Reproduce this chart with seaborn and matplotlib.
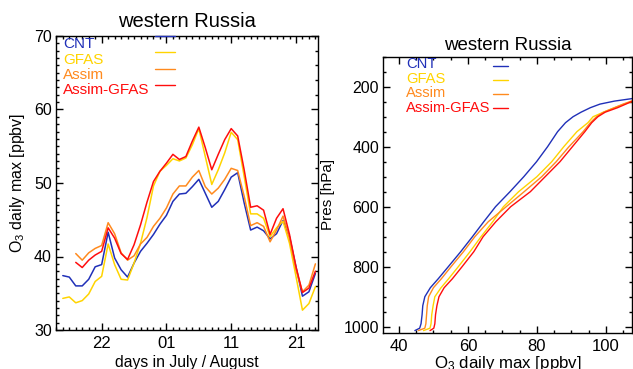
import matplotlib
matplotlib.use("Agg")
import matplotlib.pyplot as plt
from matplotlib.lines import Line2D
from matplotlib.ticker import MultipleLocator
import seaborn as sns
import pandas as pd

# ---------------- data ----------------
RUNS = ["CNT", "GFAS", "Assim", "Assim-GFAS"]
COLORS = ["#2030b8", "#ffd400", "#ff8a1e", "#ff0d0d"]

# day number counted from 1 July (32 = 01 August); 16 Jul ... 24 Aug
DAYS = list(range(16, 56))
TICK_DAYS = [22, 32, 42, 52]
TICK_LABELS = ["22", "01", "11", "21"]

CNT_TS = [37.4, 37.2, 36.0, 36.0, 36.9, 38.6, 38.9, 43.3, 39.8, 38.2,
          37.2, 39.1, 40.7, 41.8, 43.0, 44.4, 45.6, 47.5, 48.5, 48.6,
          49.5, 50.5, 48.6, 46.7, 47.5, 49.1, 50.8, 51.4, 47.3, 43.6,
          44.0, 43.5, 42.4, 43.1, 44.9, 42.7, 38.6, 34.6, 35.2, 37.7]
GFAS_TS = [34.3, 34.5, 33.7, 34.0, 34.9, 36.6, 37.3, 41.7, 38.9, 36.9,
           36.8, 39.1, 41.8, 45.3, 49.6, 51.6, 52.4, 53.3, 53.0, 53.4,
           55.2, 57.4, 53.6, 49.8, 51.8, 54.1, 56.9, 55.9, 50.9, 45.8,
           45.8, 45.2, 42.7, 43.9, 44.8, 41.8, 37.3, 32.7, 33.6, 35.9]
ASSIM_TS = [None, None, 40.4, 39.5, 40.5, 41.1, 41.5, 44.6, 43.1, 40.5,
            39.5, 40.1, 41.7, 42.6, 44.1, 45.2, 46.6, 48.5, 49.6, 49.6,
            50.8, 51.7, 49.5, 48.5, 49.3, 50.5, 52.0, 51.7, 48.2, 44.2,
            44.6, 44.1, 42.0, 43.6, 45.5, 42.5, 38.2, 35.2, 36.1, 39.0]
ASSIM_GFAS_TS = [None, None, 39.2, 38.5, 39.5, 40.2, 40.7, 43.9, 42.5, 40.4,
                 39.6, 41.6, 44.3, 47.4, 50.2, 51.6, 52.7, 53.9, 53.2, 53.6,
                 55.7, 57.6, 54.8, 51.8, 53.9, 55.9, 57.4, 56.4, 51.8, 46.7,
                 46.9, 46.3, 43.0, 45.2, 46.5, 43.0, 38.6, 35.1, 35.7, 38.0]

PRES = [1013, 1005, 990, 960, 930, 900, 870, 840, 800, 750, 700, 650, 600,
        550, 500, 450, 400, 350, 320, 300, 285, 270, 258, 248, 240, 230]
CNT_P = [44.6, 46.0, 46.4, 46.7, 46.9, 47.5, 49.1, 51.4, 54.3, 57.9, 61.3,
         64.6, 68.0, 72.2, 76.2, 79.9, 83.1, 86.0, 88.3, 90.5, 92.8, 95.5,
         98.3, 102.5, 107.4, 112.0]
GFAS_P = [47.1, 49.0, 49.3, 49.5, 49.9, 50.4, 52.2, 54.4, 57.2, 60.6, 63.8,
          67.2, 70.3, 74.7, 80.0, 84.3, 87.8, 91.6, 94.8, 96.3, 99.3, 102.5,
          105.3, 108.0, 110.5, 113.0]
ASSIM_P = [45.6, 47.5, 47.8, 48.0, 48.2, 48.6, 50.0, 52.3, 55.1, 58.7, 62.0,
           65.9, 71.1, 76.3, 81.4, 85.6, 89.3, 93.4, 95.5, 97.3, 99.3, 102.5,
           105.0, 107.4, 110.0, 113.0]
ASSIM_GFAS_P = [49.0, 50.1, 50.4, 50.6, 51.0, 51.6, 53.1, 55.5, 58.3, 61.7,
                64.4, 68.1, 72.4, 78.1, 82.4, 86.7, 90.3, 93.9, 95.9, 97.7,
                99.8, 103.4, 105.8, 107.8, 110.0, 113.0]

TS = dict(zip(RUNS, [CNT_TS, GFAS_TS, ASSIM_TS, ASSIM_GFAS_TS]))
PR = dict(zip(RUNS, [CNT_P, GFAS_P, ASSIM_P, ASSIM_GFAS_P]))

df_ts = pd.concat([pd.DataFrame({"day": DAYS, "o3": TS[r], "run": r}) for r in RUNS])
df_ts = df_ts.dropna().astype({"o3": float})
df_pr = pd.concat([pd.DataFrame({"pres": PRES, "o3": PR[r], "run": r}) for r in RUNS])

# ---------------- style ----------------
sns.set_style("ticks")
plt.rcParams.update({
    "font.family": ["Liberation Sans", "DejaVu Sans"],
    "mathtext.fontset": "custom",
    "mathtext.rm": "Liberation Sans",
    "mathtext.it": "Liberation Sans:italic",
    "axes.linewidth": 1.0,
    "axes.edgecolor": "black",
    "text.color": "black",
    "axes.labelcolor": "black",
    "xtick.color": "black",
    "ytick.color": "black",
})
palette = dict(zip(RUNS, COLORS))

W, H = 633, 369
fig = plt.figure(figsize=(W / 100, H / 100), dpi=100)


def rect(l, t, r, b):
    return [l / W, 1 - b / H, (r - l) / W, (b - t) / H]


ax1 = fig.add_axes(rect(56, 36, 318, 330))
ax2 = fig.add_axes(rect(383.3, 56.7, 631.7, 332.7))

# ---------------- left panel ----------------
sns.lineplot(data=df_ts, x="day", y="o3", hue="run", hue_order=RUNS,
             palette=palette, estimator=None, linewidth=1.1, legend=False, ax=ax1)
ax1.set_xlim(14.95, 55.4)
ax1.set_ylim(30, 70)
ax1.set_xticks(TICK_DAYS)
ax1.set_xticklabels(TICK_LABELS)
ax1.xaxis.set_minor_locator(MultipleLocator(1))
ax1.set_yticks([30, 40, 50, 60, 70])
ax1.yaxis.set_minor_locator(MultipleLocator(1))
ax1.tick_params(which="both", direction="in", top=True, right=False, width=1)
ax1.tick_params(which="major", length=5)
ax1.tick_params(which="minor", length=2.5)
ax1.tick_params(axis="x", labelsize=12, pad=4.5)
ax1.tick_params(axis="y", labelsize=11.5, pad=3)
sec = ax1.secondary_yaxis("right")
sec.set_yticks([30, 40, 50, 60, 70])
sec.yaxis.set_minor_locator(MultipleLocator(2))
sec.tick_params(which="both", direction="in", labelright=False, width=1)
sec.tick_params(which="major", length=5)
sec.tick_params(which="minor", length=2.5)
sec.spines["right"].set_visible(False)
ax1.set_xlabel("days in July / August", fontsize=11.3, labelpad=2.5)
ax1.set_ylabel(r"O$_3$ daily max [ppbv]", fontsize=11.5, labelpad=5)
ax1.set_title("western Russia", fontsize=14.5, pad=6.5)

# ---------------- right panel ----------------
sns.lineplot(data=df_pr, x="o3", y="pres", hue="run", hue_order=RUNS,
             palette=palette, estimator=None, orient="y", linewidth=1.0,
             legend=False, ax=ax2)
ax2.set_xlim(35.45, 107.5)
ax2.set_ylim(1020, 100)
ax2.set_xticks([40, 60, 80, 100])
ax2.xaxis.set_minor_locator(MultipleLocator(5))
ax2.set_yticks([200, 400, 600, 800, 1000])
ax2.yaxis.set_minor_locator(MultipleLocator(50))
ax2.tick_params(which="both", direction="in", top=True, right=True, width=1)
ax2.tick_params(which="major", length=5)
ax2.tick_params(which="minor", length=2.5)
ax2.tick_params(axis="x", labelsize=12, pad=4.5)
ax2.tick_params(axis="y", labelsize=11.5, pad=3)
ax2.set_xlabel(r"O$_3$ daily max [ppbv]", fontsize=12.2, labelpad=0)
ax2.set_ylabel("Pres [hPa]", fontsize=11, labelpad=6)
ax2.set_title("western Russia", fontsize=13.5, pad=4.5)


# ---------------- legends: coloured names + line samples ----------------
def legend_block(ax, text_x, text_ys, fs, line_x, line_top, hlen, spacing):
    for name, c, y in zip(RUNS, COLORS, text_ys):
        ax.text(text_x, y, name, color=c, fontsize=fs, va="baseline",
                ha="left", transform=ax.transAxes)
    handles = [Line2D([], [], color=c, lw=1.0) for c in COLORS]
    leg = ax.legend(handles, [" "] * len(RUNS), loc="upper left",
                    bbox_to_anchor=(line_x, line_top), frameon=False,
                    fontsize=fs, handlelength=hlen, handletextpad=0,
                    borderpad=0, borderaxespad=0, labelspacing=spacing)
    return leg


legend_block(ax1, 0.028, [0.958, 0.906, 0.854, 0.802], 11.0,
             0.378, 1.018, 1.31, 0.14)
legend_block(ax2, 0.0914, [0.958, 0.905, 0.853, 0.800], 10.6,
             0.443, 0.987, 1.0, 0.0)

fig.savefig("out.png", dpi=100)
